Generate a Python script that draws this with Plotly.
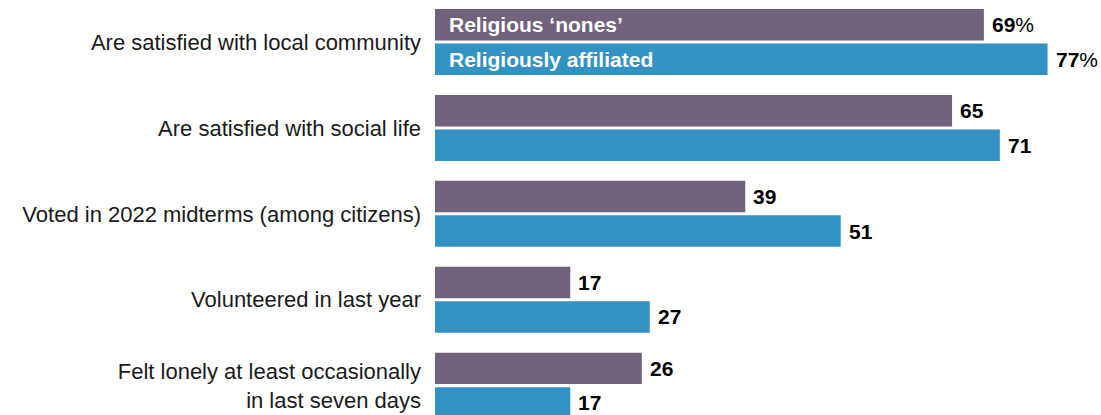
import plotly.graph_objects as go

# Survey items, top to bottom
categories = [
    "Are satisfied with local community",
    "Are satisfied with social life",
    "Voted in 2022 midterms (among citizens)",
    "Volunteered in last year",
    "Felt lonely at least occasionally<br>in last seven days",
]
series_names = ["Religious \u2018nones\u2019", "Religiously affiliated"]
nones_values = [69, 65, 39, 17, 26]
affiliated_values = [77, 71, 51, 27, 17]

PURPLE = "#70617C"
BLUE = "#3392C1"
BAR_GAP = 0.197
BAR_GROUP_GAP = 0.088
LABEL_FONT = "Liberation Sans, Arial, sans-serif"

positions = list(range(len(categories)))
# half of one bar slot within a group: centre offset of each bar from its category
slot = (1 - BAR_GAP) / 2
half = slot / 2

fig = go.Figure()
for name, vals, color in [
    (series_names[0], nones_values, PURPLE),
    (series_names[1], affiliated_values, BLUE),
]:
    fig.add_trace(go.Bar(
        y=positions, x=vals, orientation="h", name=name,
        marker=dict(color=color, line=dict(width=0)),
        hoverinfo="skip",
    ))

annotations = []
for i, (a, b) in enumerate(zip(nones_values, affiliated_values)):
    for v, off in ((a, -half), (b, half)):
        txt = f"<b>{v}</b>%" if i == 0 else f"<b>{v}</b>"
        annotations.append(dict(
            x=v, y=i + off, xref="x", yref="y", text=txt, showarrow=False,
            xanchor="left", yanchor="middle", xshift=6,
            font=dict(family=LABEL_FONT, size=21, color="#000000"),
        ))

# Series names written inside the first pair of bars
for name, off in zip(series_names, (-half, half)):
    annotations.append(dict(
        x=0, y=off, xref="x", yref="y", text=f"<b>{name}</b>", showarrow=False,
        xanchor="left", yanchor="middle", xshift=12,
        font=dict(family=LABEL_FONT, size=21, color="#ffffff"),
    ))

fig.update_layout(
    width=1101, height=415,
    margin=dict(l=435, r=0, t=0, b=0),
    barmode="group", bargap=BAR_GAP, bargroupgap=BAR_GROUP_GAP,
    plot_bgcolor="white", paper_bgcolor="white",
    showlegend=False,
    annotations=annotations,
    xaxis=dict(range=[0, 83.72], visible=False, fixedrange=True),
    yaxis=dict(
        range=[4.342, -0.489], tickmode="array", tickvals=positions,
        ticktext=categories, ticks="", showgrid=False, zeroline=False,
        showline=False, ticklabelstandoff=13,
        tickfont=dict(family=LABEL_FONT, size=22, color="#1a1a1a"),
    ),
)

fig.write_html("out.html")
